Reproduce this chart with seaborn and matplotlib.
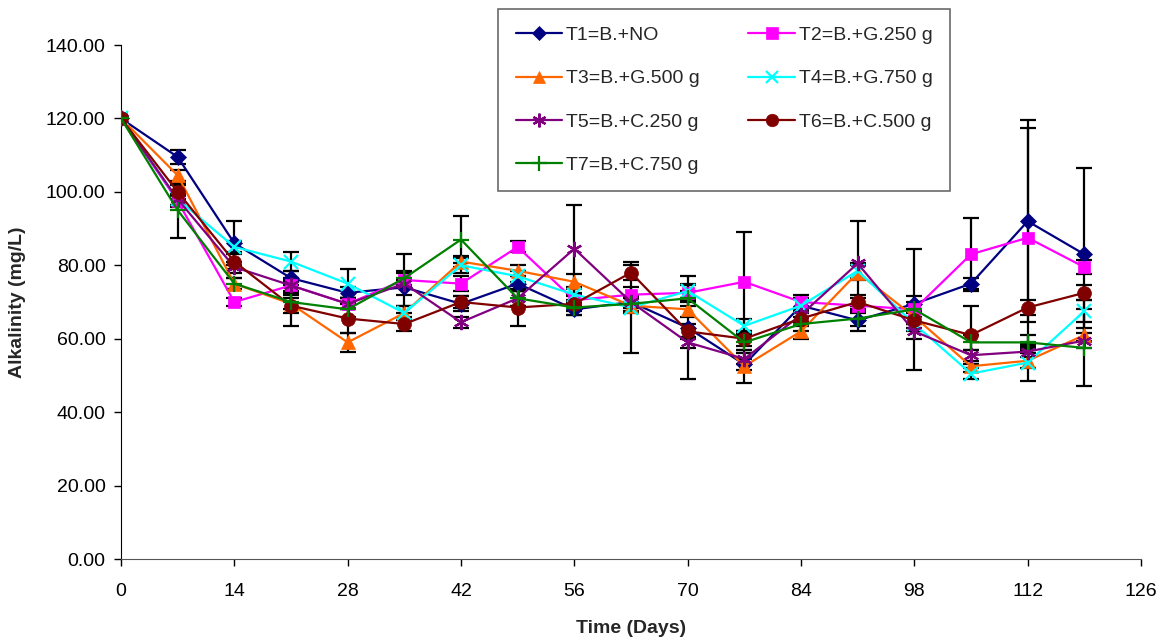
import numpy as np
import pandas as pd
import matplotlib
matplotlib.use("Agg")
import matplotlib.pyplot as plt
import seaborn as sns

days = [0, 7, 14, 21, 28, 35, 42, 49, 56, 63, 70, 77, 84, 91, 98, 105, 112, 119]

labels = ["T1=B.+NO", "T2=B.+G.250 g", "T3=B.+G.500 g", "T4=B.+G.750 g",
          "T5=B.+C.250 g", "T6=B.+C.500 g", "T7=B.+C.750 g"]

t1 = [120, 109.5, 86, 76.5, 72.5, 74, 69.5, 75, 68, 70, 63, 53, 69, 65, 69.5, 75, 92, 83]
t2 = [120, 97.5, 70, 74.5, 69.5, 76, 75, 85, 70.5, 72, 72.5, 75.5, 70, 69, 68, 83, 87.5, 79.5]
t3 = [120, 104.5, 75, 69.5, 59, 67, 81, 78.5, 75.5, 69, 68, 52.5, 62, 78, 66, 52.5, 54, 61]
t4 = [120, 98, 85, 81, 75, 67, 80, 77, 72, 68.5, 73, 63.5, 69, 78.5, 64, 50.5, 53.5, 67.5]
t5 = [120, 98, 79.5, 74.5, 69.5, 75, 64.5, 71, 84.5, 70, 59, 54.5, 66.5, 80.5, 62, 55.5, 56.5, 59.5]
t6 = [120, 100, 81, 69, 65.5, 64, 70, 68.5, 69.5, 78, 62, 60, 65.5, 70, 65, 61, 68.5, 72.5]
t7 = [120, 95, 75, 70, 68, 76.5, 87, 71, 68.5, 69.5, 71, 59, 64, 65.5, 68, 59, 59, 57.5]

e1 = [0, 2, 6, 2, 1.5, 2, 2, 2, 1.5, 1, 14, 1.5, 2, 3, 2, 1.5, 27.5, 23.5]
e2 = [0, 1.5, 1, 1.5, 1.5, 2, 2, 1.5, 1.5, 2, 2, 13.5, 2, 2, 16.5, 10, 30, 2]
e3 = [0, 1.5, 1.5, 6, 2.5, 2, 1.5, 1.5, 2, 2, 2, 4.5, 2, 2, 2, 1.5, 2, 2]
e4 = [0, 1.5, 1.5, 2.5, 4, 2, 2, 1.5, 2, 12.5, 2, 2, 2, 2, 2, 1.5, 5, 3]
e5 = [0, 1.5, 1.5, 2, 1.5, 8, 1.5, 2, 12, 1.5, 1.5, 1.5, 2, 11.5, 2, 1.5, 1.5, 2]
e6 = [0, 2, 2, 2, 4, 2, 1.5, 5, 2, 2, 2, 2, 2, 2, 2, 8, 2, 2]
e7 = [0, 7.5, 1.5, 2, 2, 2, 6.5, 2, 2, 2, 2, 2, 2, 2, 2, 2, 2, 10.5]

values = [t1, t2, t3, t4, t5, t6, t7]
errors = [e1, e2, e3, e4, e5, e6, e7]
colors = ["#000080", "#FF00FF", "#FF6600", "#00FFFF", "#800080", "#800000", "#008000"]
markers = ["D", "s", "^", "x", (6, 2, 0), "o", "+"]
msizes = [8, 9, 10, 10, 11, 10, 12]

sns.set_style("white")
plt.rcParams["font.family"] = ["Liberation Sans", "DejaVu Sans"]

fig = plt.figure(figsize=(11.68, 6.44), dpi=100)
ax = fig.add_axes([121 / 1168, 1 - 559 / 644, 1020 / 1168, 514 / 644])

for lab, v, e, c, m, ms in zip(labels, values, errors, colors, markers, msizes):
    df = pd.DataFrame({"day": days, "val": v})
    ax.errorbar(days, v, yerr=e, fmt="none", ecolor="black", elinewidth=1.6,
                capsize=6, capthick=1.6, zorder=2)
    sns.lineplot(data=df, x="day", y="val", ax=ax, color=c, marker=m,
                 markersize=ms, markeredgecolor=c,
                 markeredgewidth=1.6 if m in ("x", "+", (6, 2, 0)) else 0.5,
                 linewidth=1.6, label=lab, zorder=3)

ax.set_xlim(0, 126)
ax.set_ylim(0, 140)
ax.set_xticks(np.arange(0, 127, 14))
ax.set_yticks(np.arange(0, 141, 20))
ax.set_yticklabels([f"{t:.2f}" for t in np.arange(0, 141, 20)])
ax.tick_params(axis="both", labelsize=14, direction="out", length=5, width=1,
               left=True, bottom=True, colors="black")
ax.tick_params(axis="x", pad=12)
ax.tick_params(axis="y", pad=6)
ax.set_xlabel("Time (Days)", fontsize=14, fontweight="bold", labelpad=15)
ax.set_ylabel("Alkalinity (mg/L)", fontsize=14, fontweight="bold", labelpad=14)
for s in ["top", "right"]:
    ax.spines[s].set_visible(False)
ax.spines["left"].set_color("black")
ax.spines["bottom"].set_color("#555555")

h, l = ax.get_legend_handles_labels()
order = [0, 2, 4, 6, 1, 3, 5]
ax.get_legend().remove()
leg = fig.legend([h[i] for i in order], [l[i] for i in order], ncol=2,
                 loc="upper left", bbox_to_anchor=(498 / 1168, 1 - 9 / 644),
                 fontsize=14, frameon=True, fancybox=False, edgecolor="#444444",
                 handlelength=2.4, columnspacing=2.5, labelspacing=1.32,
                 borderpad=0.9, handletextpad=0.2, markerscale=0.9,
                 borderaxespad=0)
leg.get_frame().set_linewidth(1.2)

fig.savefig("out.png", dpi=100)
